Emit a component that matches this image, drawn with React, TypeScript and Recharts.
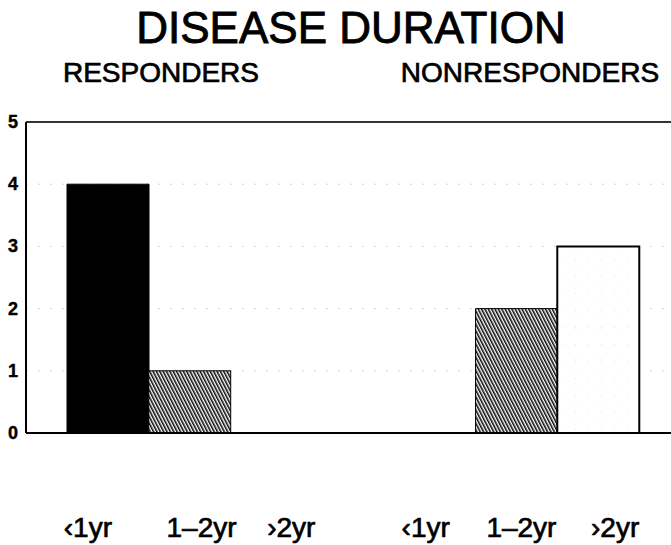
import React from "react";
import { BarChart, Bar, XAxis, YAxis, CartesianGrid, ReferenceLine, Cell } from "recharts";

const title = "DISEASE DURATION";
const groups = ["RESPONDERS", "NONRESPONDERS"];
const durations = ["\u20391yr", "1\u20132yr", "\u203A2yr"];
const responders = [4, 1, 0];
const nonresponders = [0, 2, 3];
const yTicks = [0, 1, 2, 3, 4, 5];

// styling only
const fills = ["#000", "url(#hatch)", "url(#stipple)"];
const strokeWidths = [1, 1, 2];
const labelDx = [-20, 12, 20, 0, -9, 5, 17];

type Row = { key: string; label: string; v: number | null; d: number };
const data: Row[] = [
  ...responders.map((v, i) => ({ key: `r${i}`, label: durations[i], v, d: i })),
  { key: "gap", label: "", v: null, d: -1 },
  ...nonresponders.map((v, i) => ({ key: `n${i}`, label: durations[i], v, d: i })),
];

const FONT = "'Liberation Sans', Arial, Helvetica, sans-serif";

const renderXTick = (props: any) => {
  const { x, y, index } = props;
  const row = data[index];
  if (!row || !row.label) return <g />;
  return (
    <text
      x={x + labelDx[index]}
      y={y}
      dy={104}
      textAnchor="middle"
      fontFamily={FONT}
      fontSize={28}
      fill="#000"
      stroke="#000"
      strokeWidth={0.7}
    >
      {row.label}
    </text>
  );
};

const renderYTick = (props: any) => {
  const { x, y, payload } = props;
  return (
    <text
      x={x}
      y={y}
      dy={6}
      textAnchor="end"
      fontFamily={FONT}
      fontSize={18}
      fontWeight={700}
      fill="#000"
      stroke="#000"
      strokeWidth={0.4}
    >
      {payload.value}
    </text>
  );
};

export default function App() {
  return (
    <div style={{ position: "absolute", left: 0, top: 0, width: 671, height: 545, background: "#fff" }}>
      <svg width={671} height={110} style={{ position: "absolute", left: 0, top: 0 }}>
        <text x={351} y={43} textAnchor="middle" fontFamily={FONT} fontSize={44} fill="#000" stroke="#000" strokeWidth={0.9}>
          {title}
        </text>
        <text x={161} y={82} textAnchor="middle" fontFamily={FONT} fontSize={28} fill="#000" stroke="#000" strokeWidth={0.7}>
          {groups[0]}
        </text>
        <text x={530} y={82} textAnchor="middle" fontFamily={FONT} fontSize={28} fill="#000" stroke="#000" strokeWidth={0.7}>
          {groups[1]}
        </text>
      </svg>
      <div style={{ position: "absolute", left: 0, top: 0 }}>
        <BarChart
          width={671}
          height={545}
          data={data}
          margin={{ top: 122, right: 0, bottom: 0, left: 0 }}
          barCategoryGap={0}
          barGap={0}
        >
          <defs>
            <pattern id="hatch" patternUnits="userSpaceOnUse" width={3} height={10} patternTransform="rotate(-27)">
              <rect width={3} height={10} fill="#fff" />
              <line x1={0.8} y1={0} x2={0.8} y2={10} stroke="#000" strokeWidth={1.5} />
            </pattern>
            <pattern id="stipple" patternUnits="userSpaceOnUse" width={13} height={17}>
              <rect width={13} height={17} fill="#fff" />
              <rect x={3} y={4} width={1} height={1} fill="#e4e4e4" />
              <rect x={9} y={12} width={1} height={1} fill="#ececec" />
            </pattern>
          </defs>
          <CartesianGrid vertical={false} stroke="#d4d4d4" strokeDasharray="2 10" />
          <XAxis
            dataKey="key"
            height={112}
            tickLine={false}
            tickSize={0}
            tickMargin={0}
            axisLine={{ stroke: "#000", strokeWidth: 2 }}
            padding={{ left: 41, right: 32 }}
            tick={renderXTick}
            interval={0}
          />
          <YAxis
            width={26}
            domain={[0, 5]}
            ticks={yTicks}
            interval={0}
            tickLine={false}
            tickSize={0}
            tickMargin={8}
            axisLine={{ stroke: "#000", strokeWidth: 2 }}
            tick={renderYTick}
          />
          <ReferenceLine y={5} stroke="#333" strokeWidth={2} />
          <Bar dataKey="v" isAnimationActive={false}>
            {data.map((row, i) => (
              <Cell
                key={row.key}
                fill={row.d >= 0 ? fills[row.d] : "none"}
                stroke="#000"
                strokeWidth={row.d >= 0 ? strokeWidths[row.d] : 0}
              />
            ))}
          </Bar>
        </BarChart>
      </div>
    </div>
  );
}
